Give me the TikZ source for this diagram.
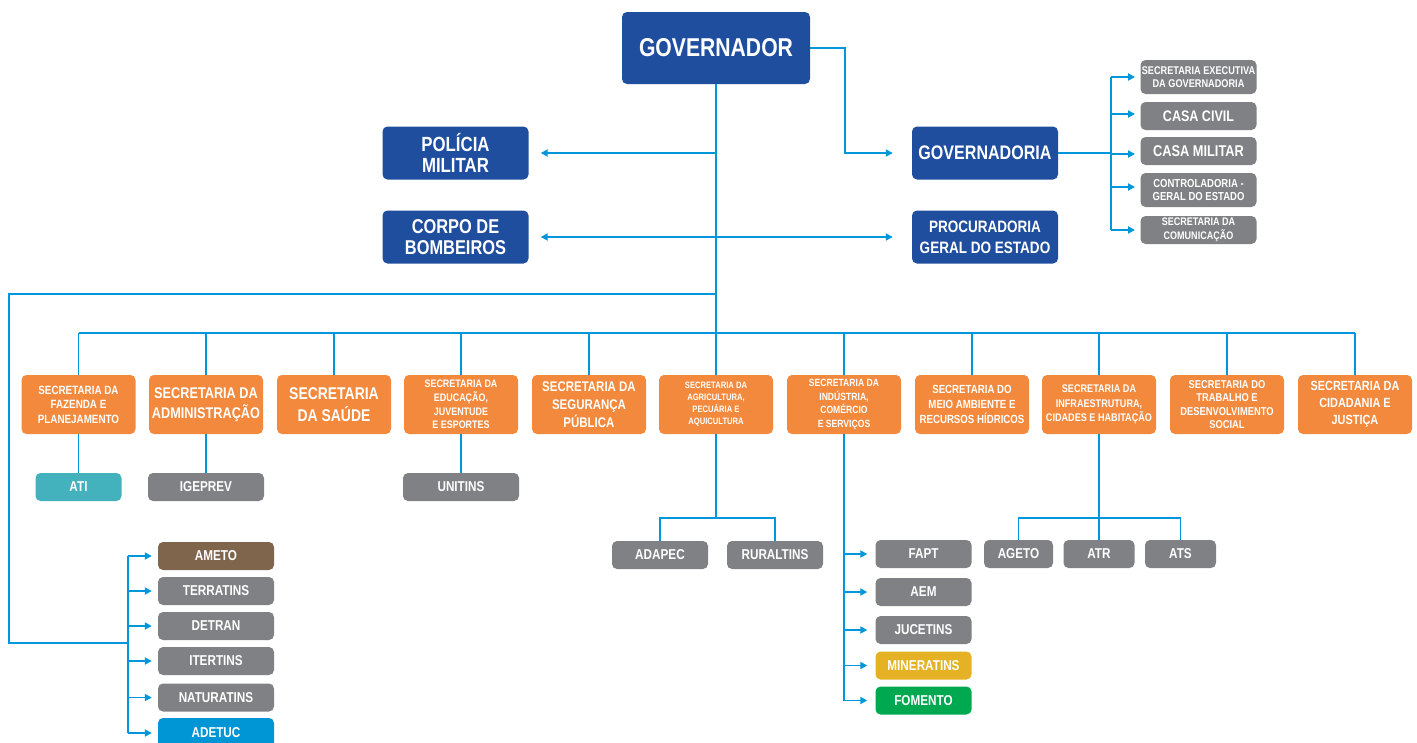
\documentclass[tikz,border=0pt]{standalone}
\usepackage{fontspec}
\setmainfont{Liberation Sans}[FakeStretch=0.82]
\usetikzlibrary{arrows.meta}
\definecolor{gblue}{RGB}{31,78,158}
\definecolor{gorange}{RGB}{242,137,60}
\definecolor{ggray}{RGB}{128,129,133}
\definecolor{gbrown}{RGB}{128,101,77}
\definecolor{gteal}{RGB}{67,178,188}
\definecolor{gsky}{RGB}{0,150,214}
\definecolor{ggold}{RGB}{228,178,36}
\definecolor{ggreen}{RGB}{0,168,80}
\definecolor{gline}{RGB}{0,150,220}
\newcommand\fsz[2]{\fontsize{#1}{#2}\selectfont}
\begin{document}
\begin{tikzpicture}[x=1pt,y=-1pt,
  box/.style={rounded corners=5pt, inner sep=0pt, align=center, text=white, font=\bfseries},
  bluebox/.style={box, fill=gblue, minimum width=146pt, minimum height=53pt},
  orbox/.style={box, fill=gorange, minimum width=114pt, minimum height=59pt},
  rgray/.style={box, fill=ggray, minimum width=116pt},
  sub/.style={box, fill=ggray, minimum height=28pt, font=\bfseries\fsz{14.3}{16}},
  conn/.style={draw=gline, line width=1.8pt},
  arr/.style={conn, -{Triangle[length=7pt,width=7pt]}},
  darr/.style={conn, {Triangle[length=7pt,width=7pt]}-{Triangle[length=7pt,width=7pt]}}]
\useasboundingbox (0,0) rectangle (1417,742);

% top level
\node[box, fill=gblue, minimum width=188pt, minimum height=72pt, font=\bfseries\fsz{25.8}{30}] (gov) at (716,48) {GOVERNADOR};
\node[bluebox, font=\bfseries\fsz{20.5}{21}] (pm) at (455.5,153) {POLÍCIA\\MILITAR};
\node[bluebox, font=\bfseries\fsz{20}{21}] (cb) at (455.5,237) {CORPO DE\\BOMBEIROS};
\node[bluebox, font=\bfseries\fsz{19.6}{22}] (gvd) at (985,153) {GOVERNADORIA};
\node[bluebox, font=\bfseries\fsz{16.5}{21}] (pge) at (985,237) {PROCURADORIA\\GERAL DO ESTADO};

% governadoria children
\node[rgray, minimum height=34pt, font=\bfseries\fsz{11.2}{13.5}] (g1) at (1198.5,77) {SECRETARIA EXECUTIVA\\DA GOVERNADORIA};
\node[rgray, minimum height=28pt, font=\bfseries\fsz{15.3}{16}] (g2) at (1198.5,116) {CASA CIVIL};
\node[rgray, minimum height=28pt, font=\bfseries\fsz{15.6}{16}] (g3) at (1198.5,151) {CASA MILITAR};
\node[rgray, minimum height=34pt, font=\bfseries\fsz{11.6}{13.5}] (g4) at (1198.5,190) {CONTROLADORIA -\\GERAL DO ESTADO};
\node[rgray, minimum height=28pt, font=\bfseries\fsz{11}{14}] (g5) at (1198.5,230) {SECRETARIA DA\\COMUNICAÇÃO};

% secretarias
\node[orbox, font=\bfseries\fsz{12}{14.5}] (o1) at (78.5,404.5) {SECRETARIA DA\\FAZENDA E\\PLANEJAMENTO};
\node[orbox, font=\bfseries\fsz{15.5}{20}] (o2) at (206,404.5) {SECRETARIA DA\\ADMINISTRAÇÃO};
\node[orbox, font=\bfseries\fsz{17}{22}] (o3) at (334,404.5) {SECRETARIA\\DA SAÚDE};
\node[orbox, font=\bfseries\fsz{10.9}{13.7}] (o4) at (461,404.5) {SECRETARIA DA\\EDUCAÇÃO,\\JUVENTUDE\\E ESPORTES};
\node[orbox, font=\bfseries\fsz{14}{18}] (o5) at (589,404.5) {SECRETARIA DA\\SEGURANÇA\\PÚBLICA};
\node[orbox, font=\bfseries\fsz{9.3}{12}] (o6) at (716,404.5) {SECRETARIA DA\\AGRICULTURA,\\PECUÁRIA E\\AQUICULTURA};
\node[orbox, font=\bfseries\fsz{10.5}{13.5}] (o7) at (844,404.5) {SECRETARIA DA\\INDÚSTRIA,\\COMÉRCIO\\E SERVIÇOS};
\node[orbox, font=\bfseries\fsz{11.8}{15}] (o8) at (972,404.5) {SECRETARIA DO\\MEIO AMBIENTE E\\RECURSOS HÍDRICOS};
\node[orbox, font=\bfseries\fsz{11.1}{14.5}] (o9) at (1099,404.5) {SECRETARIA DA\\INFRAESTRUTURA,\\CIDADES E HABITAÇÃO};
\node[orbox, font=\bfseries\fsz{11.4}{13.5}] (o10) at (1227,404.5) {SECRETARIA DO\\TRABALHO E\\DESENVOLVIMENTO\\SOCIAL};
\node[orbox, font=\bfseries\fsz{13.3}{17}] (o11) at (1355,404.5) {SECRETARIA DA\\CIDADANIA E\\JUSTIÇA};

% sub-units
\node[sub, fill=gteal, minimum width=86pt] (ati) at (78.5,487) {ATI};
\node[sub, minimum width=116pt] (ige) at (206,487) {IGEPREV};
\node[sub, minimum width=116pt] (uni) at (461,487) {UNITINS};
\node[sub, minimum width=96pt] (ada) at (660,555) {ADAPEC};
\node[sub, minimum width=96pt] (rur) at (775,555) {RURALTINS};
\node[sub, minimum width=96pt] (fapt) at (923.5,554) {FAPT};
\node[sub, minimum width=96pt] (aem) at (923.5,592) {AEM};
\node[sub, minimum width=96pt] (juc) at (923.5,630) {JUCETINS};
\node[sub, fill=ggold, minimum width=96pt] (min) at (923.5,665.5) {MINERATINS};
\node[sub, fill=ggreen, minimum width=96pt] (fom) at (923.5,700.5) {FOMENTO};
\node[sub, minimum width=69pt] (age) at (1018.5,554) {AGETO};
\node[sub, minimum width=71pt] (atr) at (1099,554) {ATR};
\node[sub, minimum width=71pt] (ats) at (1180.5,554) {ATS};
\node[sub, fill=gbrown, minimum width=116pt] (ame) at (216,556) {AMETO};
\node[sub, minimum width=116pt] (ter) at (216,591) {TERRATINS};
\node[sub, minimum width=116pt] (det) at (216,626) {DETRAN};
\node[sub, minimum width=116pt] (ite) at (216,661) {ITERTINS};
\node[sub, minimum width=116pt] (nat) at (216,697.5) {NATURATINS};
\node[sub, fill=gsky, minimum width=116pt, minimum height=30pt] (ade) at (216,733) {ADETUC};

% helper coordinates
\coordinate (bus) at (0,333);
\coordinate (busL) at (78.5,333);
\coordinate (busR) at (1355,333);
\coordinate (jpm) at (716,153);
\coordinate (jleft) at (716,294);
\coordinate (lc1) at (9,294);
\coordinate (lc2) at (9,643);
\coordinate (lb) at (128,643);
\coordinate (lbTop) at (128,556);
\coordinate (lbBot) at (128,733);
\coordinate (gr1) at (845,48);
\coordinate (gr2) at (845,153);
\coordinate (rb) at (1111,153);
\coordinate (rbTop) at (1111,77);
\coordinate (rbBot) at (1111,230);
\coordinate (agj) at (716,518);
\coordinate (inj) at (1099,518);
\coordinate (indBot) at (844,700.5);

% main trunk
\draw[conn] (gov.south) -- (716,333);
\draw[conn] (busL) -- (busR);
\foreach \n in {o1,o2,o3,o4,o5,o6,o7,o8,o9,o10,o11}
  \draw[conn] (\n.north |- bus) -- (\n.north);

% police, firefighters, procuradoria
\draw[arr] (jpm) -- ([xshift=12pt]pm.east);
\draw[darr] ([xshift=12pt]cb.east) -- ([xshift=-19pt]pge.west);

% governadoria
\draw[arr] (gov.east |- gr1) -- (gr1) -- (gr2) -- ([xshift=-19pt]gvd.west);
\draw[conn] (gvd.east) -- (rb);
\draw[conn] (rbTop) -- (rbBot);
\foreach \yy in {77,114,154,187,230}
  \draw[arr] (1111,\yy) -- (1135,\yy);

% left branch
\draw[conn] (jleft) -- (lc1) -- (lc2) -- (lb);
\draw[conn] (lbTop) -- (lbBot);
\foreach \n in {ame,ter,det,ite,nat,ade}
  \draw[arr] (lb |- \n.west) -- ([xshift=-6pt]\n.west);

% secretaria sub-units
\draw[conn] (o1.south) -- (ati.north);
\draw[conn] (o2.south) -- (ige.north);
\draw[conn] (o4.south) -- (uni.north);
\draw[conn] (o6.south) -- (agj);
\draw[conn] (ada.north) -- (ada.north |- agj) -- (rur.north |- agj) -- (rur.north);
\draw[conn] (o7.south) -- (indBot);
\foreach \n in {fapt,aem,juc,min,fom}
  \draw[arr] (o7.south |- \n.west) -- ([xshift=-8pt]\n.west);
\draw[conn] (o9.south) -- (atr.north);
\draw[conn] (age.north) -- (age.north |- inj) -- (ats.north |- inj) -- (ats.north);
\end{tikzpicture}
\end{document}
